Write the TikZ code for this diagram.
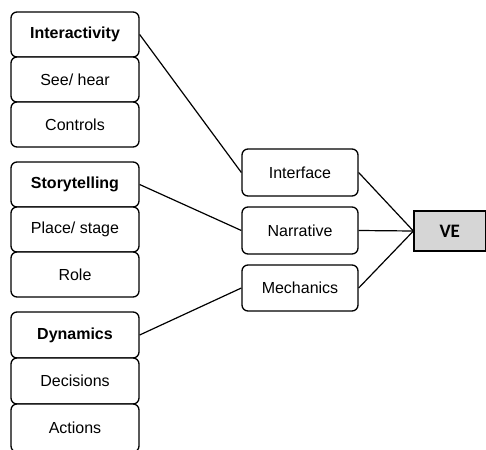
\documentclass[tikz,border=0pt]{standalone}
\usepackage{fontspec}
\setmainfont{Liberation Sans}
\newfontfamily\vefont{Carlito}
\begin{document}
\begin{tikzpicture}[x=1pt,y=-1pt,
  box/.style={draw=black,line width=1.3pt,rounded corners=6pt,fill=white,
    minimum width=#1,inner sep=0pt,font=\fontsize{16}{19}\selectfont},
  box/.default=128pt,
  head/.style={font=\fontsize{16}{19}\selectfont\bfseries},
  link/.style={draw=black,line width=1.2pt}]
\useasboundingbox (0,0) rectangle (486,449);
% left column
\node[box,head,minimum height=45pt] (inter) at (75,34.5) {Interactivity};
\node[box,minimum height=45pt] (see) at (75,79.5) {See/ hear};
\node[box,minimum height=45pt] (ctrl) at (75,124.5) {Controls};
\node[box,head,minimum height=45pt] (story) at (75,184.5) {Storytelling};
\node[box,minimum height=45pt] (place) at (75,229.5) {Place/ stage};
\node[box,minimum height=45pt] (role) at (75,274.5) {Role};
\node[box,head,minimum height=46pt] (dyn) at (75,335) {Dynamics};
\node[box,minimum height=46pt] (dec) at (75,381) {Decisions};
\node[box,minimum height=48pt] (act) at (75,428) {Actions};
% middle column
\node[box=116pt,minimum height=47pt] (iface) at (300,172.5) {Interface};
\node[box=116pt,minimum height=47pt] (narr) at (300,230.5) {Narrative};
\node[box=116pt,minimum height=46pt] (mech) at (300,288) {Mechanics};
% target
\node[draw=black,line width=1.2pt,fill=black!16,minimum width=71.5pt,minimum height=40pt,
  inner sep=0pt,font=\fontsize{19}{22}\selectfont\vefont\bfseries] (ve) at (449.75,231) {VE};
% connectors
\draw[link] (inter.east) -- (iface.west);
\draw[link] (story.east) -- (narr.west);
\draw[link] (dyn.east) -- (mech.west);
\draw[link] (iface.east) -- (ve.west);
\draw[link] (narr.east) -- (ve.west);
\draw[link] (mech.east) -- (ve.west);
\end{tikzpicture}
\end{document}
